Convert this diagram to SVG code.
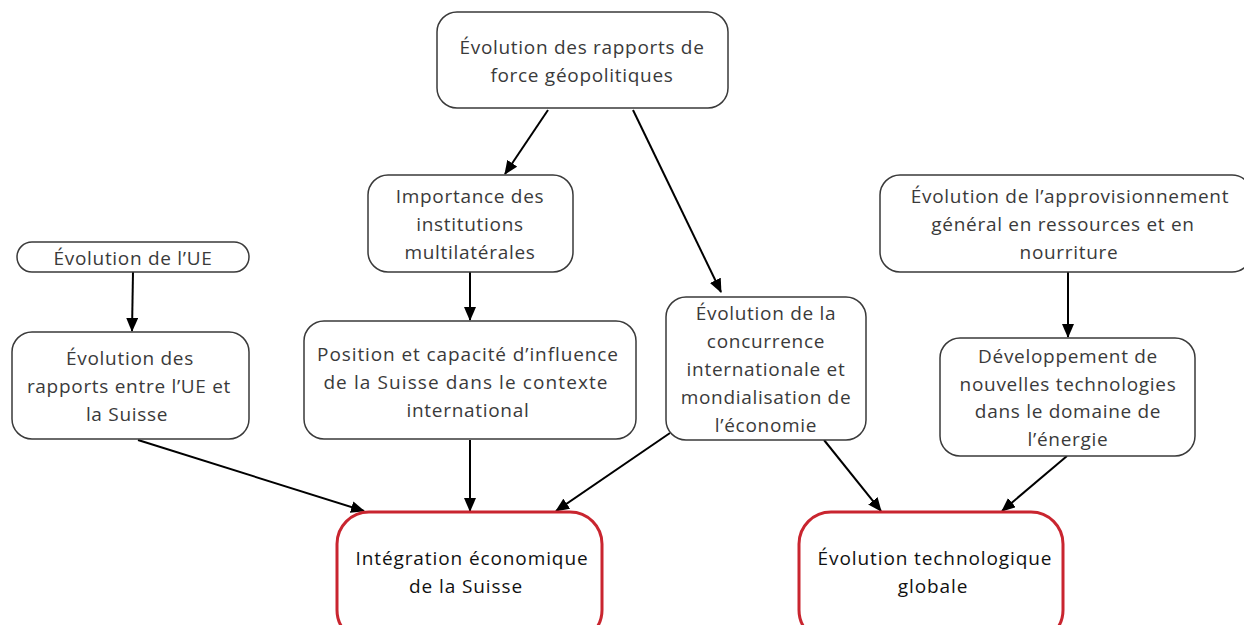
<svg xmlns="http://www.w3.org/2000/svg" width="1244" height="625" viewBox="0 0 1244 625">
<style>
.n{fill:#fff;stroke:#3a3a3a;stroke-width:1.5}
.r{fill:#fff;stroke:#c9252f;stroke-width:3}
.t{font-family:"Open Sans","Liberation Sans",sans-serif;font-size:19px;letter-spacing:0.7px;fill:#3a3a3a;text-anchor:middle}
.tb{font-family:"Open Sans","Liberation Sans",sans-serif;font-size:19px;letter-spacing:0.9px;fill:#111;text-anchor:middle}
.c line{stroke:#000;stroke-width:2;marker-end:url(#a)}
</style>
<defs>
<marker id="a" viewBox="0 0 14 12" refX="13" refY="6" markerWidth="14" markerHeight="12" markerUnits="userSpaceOnUse" orient="auto">
<path d="M0,0 L14,6 L0,12 Z" fill="#000"/>
</marker>
</defs>
<g class="c">
<line x1="548" y1="110" x2="505" y2="174"/>
<line x1="633" y1="110" x2="721" y2="292"/>
<line x1="133" y1="272" x2="132" y2="331"/>
<line x1="470" y1="272" x2="470" y2="320"/>
<line x1="138" y1="440" x2="364" y2="511"/>
<line x1="470" y1="440" x2="470" y2="511"/>
<line x1="670" y1="433" x2="556" y2="511"/>
<line x1="824" y1="440" x2="881" y2="511"/>
<line x1="1068" y1="272" x2="1068" y2="337"/>
<line x1="1067" y1="456" x2="1002" y2="511"/>
</g>
<g id="n1"><rect class="n" x="437" y="12" width="291" height="96" rx="20"/>
<text class="t" x="582" y="54">Évolution des rapports de</text>
<text class="t" x="582" y="82">force géopolitiques</text></g>
<g id="n2"><rect class="n" x="368" y="175" width="205" height="97" rx="20"/>
<text class="t" x="470" y="203">Importance des</text>
<text class="t" x="470" y="231">institutions</text>
<text class="t" x="470" y="259">multilatérales</text></g>
<g id="n3"><rect class="n" x="17" y="242" width="232" height="30" rx="15"/>
<text class="t" x="133" y="265">Évolution de l’UE</text></g>
<g id="n4"><rect class="n" x="12" y="332" width="237" height="107" rx="20"/>
<text class="t" x="130" y="365">Évolution des</text>
<text class="t" x="129" y="393">rapports entre l’UE et</text>
<text class="t" x="127" y="421">la Suisse</text></g>
<g id="n5"><rect class="n" x="304" y="321" width="332" height="118" rx="20"/>
<text class="t" x="468" y="361" style="letter-spacing:0.9px">Position et capacité d’influence</text>
<text class="t" x="466" y="389" style="letter-spacing:1.1px">de la Suisse dans le contexte</text>
<text class="t" x="468" y="417">international</text></g>
<g id="n6"><rect class="n" x="666" y="297" width="200" height="143" rx="20"/>
<text class="t" x="766" y="320">Évolution de la</text>
<text class="t" x="766" y="348">concurrence</text>
<text class="t" x="766" y="376">internationale et</text>
<text class="t" x="766" y="404">mondialisation de</text>
<text class="t" x="766" y="432">l’économie</text></g>
<g id="n7"><rect class="n" x="880" y="175" width="372" height="97" rx="20"/>
<text class="t" x="1070" y="203">Évolution de l’approvisionnement</text>
<text class="t" x="1063" y="231">général en ressources et en</text>
<text class="t" x="1069" y="259">nourriture</text></g>
<g id="n8"><rect class="n" x="940" y="338" width="255" height="118" rx="20"/>
<text class="t" x="1068" y="363">Développement de</text>
<text class="t" x="1068" y="391">nouvelles technologies</text>
<text class="t" x="1068" y="418">dans le domaine de</text>
<text class="t" x="1068" y="446">l’énergie</text></g>
<g id="n9"><rect class="r" x="337" y="512" width="265" height="130" rx="32"/>
<text class="tb" x="472" y="565">Intégration économique</text>
<text class="tb" x="466" y="593">de la Suisse</text></g>
<g id="n10"><rect class="r" x="799" y="512" width="264" height="130" rx="32"/>
<text class="tb" x="935" y="565">Évolution technologique</text>
<text class="tb" x="933" y="593">globale</text></g>
</svg>
